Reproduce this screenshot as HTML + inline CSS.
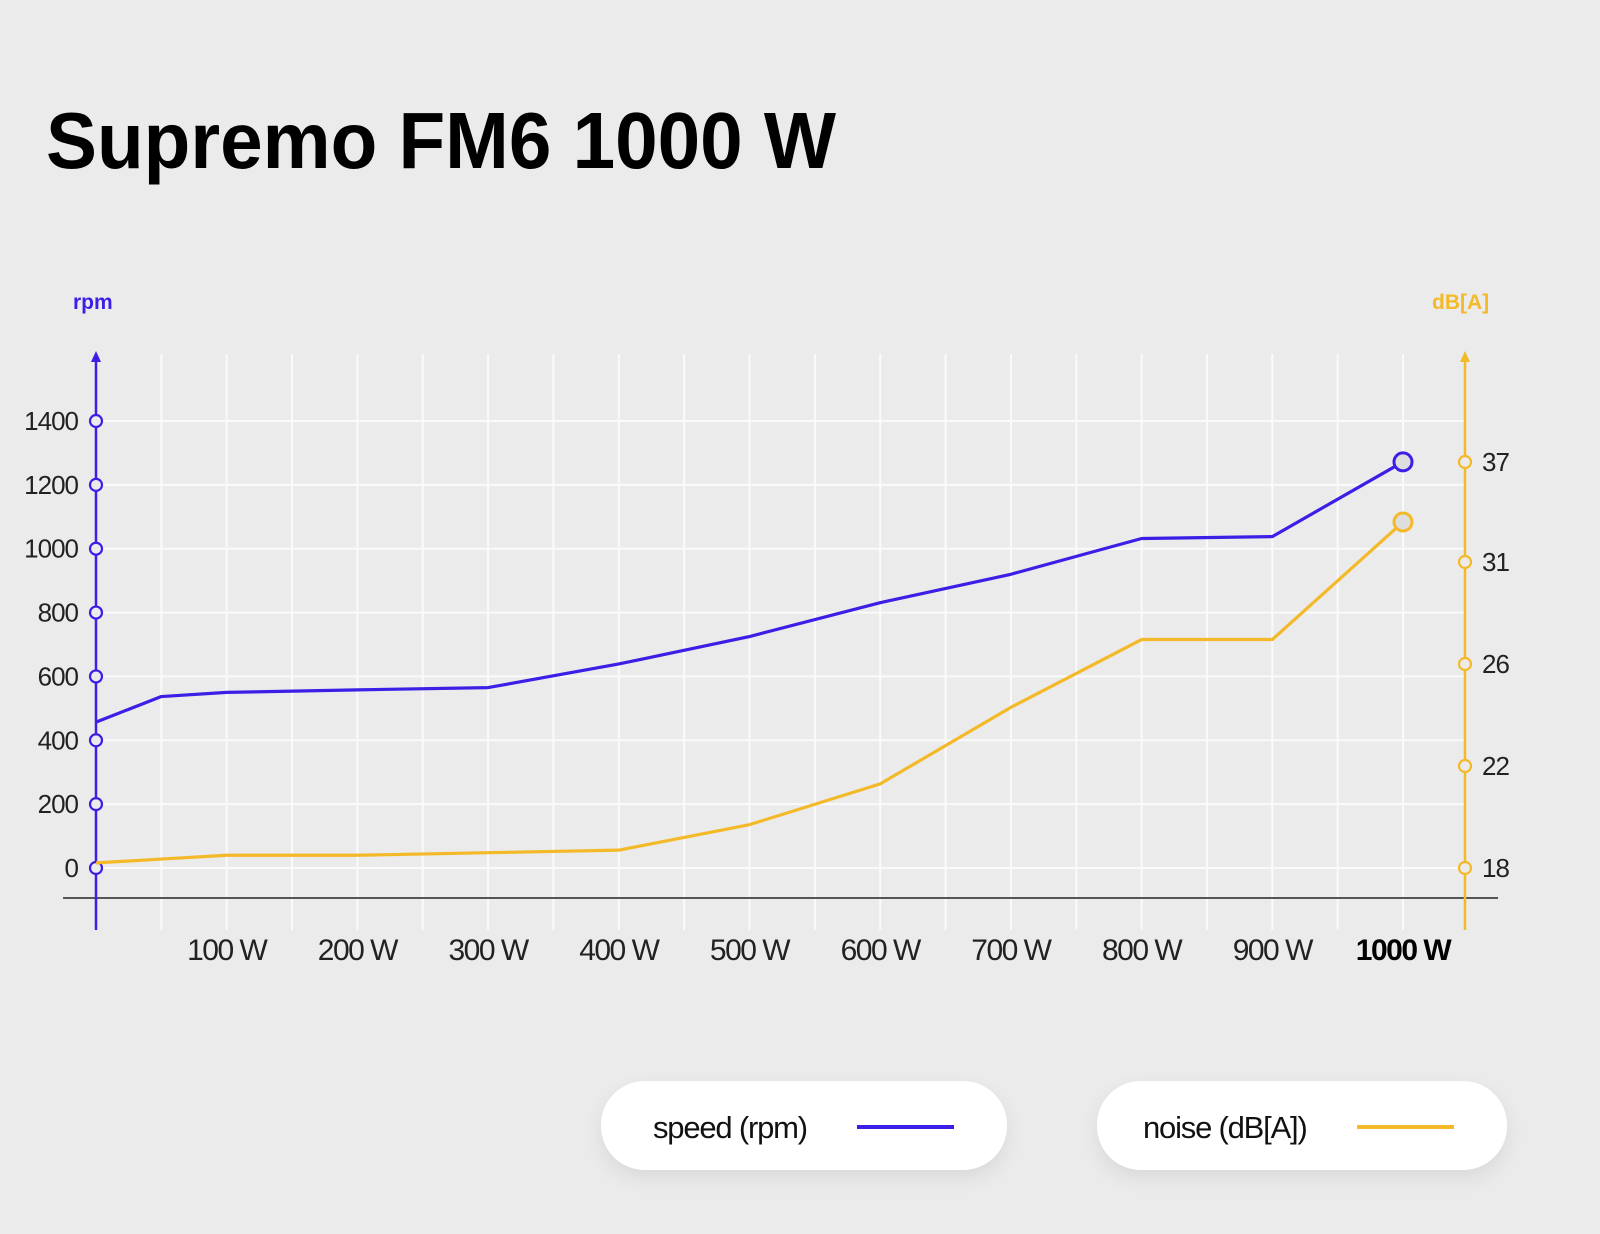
<!DOCTYPE html>
<html><head><meta charset="utf-8"><style>
html,body{margin:0;padding:0;background:#ebebeb;}
svg{display:block;font-family:"Liberation Sans",sans-serif;}
</style></head><body>
<svg id="chart" width="1600" height="1234" viewBox="0 0 1600 1234" xmlns="http://www.w3.org/2000/svg">
<defs>
<filter id="sh" x="-10%" y="-30%" width="120%" height="170%"><feDropShadow dx="0" dy="8" stdDeviation="9" flood-color="#000" flood-opacity="0.08"/></filter>
</defs>
<rect width="1600" height="1234" fill="#ebebeb"/>
<text x="46" y="168" font-size="80" font-weight="bold" fill="#000" textLength="790" lengthAdjust="spacingAndGlyphs">Supremo FM6 1000 W</text>
<g id="grid"></g>
<g id="axes"></g>
<g id="series"></g>
<g>
 <g>
  <rect x="601" y="1081" width="406" height="89" rx="44" fill="#fff" filter="url(#sh)"/>
  <text x="653" y="1138" font-size="31" fill="#111" letter-spacing="-1.2">speed (rpm)</text>
  <line x1="857" y1="1127" x2="954" y2="1127" stroke="#3b1fe6" stroke-width="4"/>
 </g>
 <g>
  <rect x="1097" y="1081" width="410" height="89" rx="44" fill="#fff" filter="url(#sh)"/>
  <text x="1143" y="1138" font-size="31" fill="#111" letter-spacing="-1.2">noise (dB[A])</text>
  <line x1="1357" y1="1127" x2="1454" y2="1127" stroke="#f4b928" stroke-width="4"/>
 </g>
</g>
</svg>
<script>
const watts = [0, 50, 100, 200, 300, 400, 500, 600, 700, 800, 900, 1000];
const speedRpm = [457, 537, 550, 558, 565, 639, 725, 831, 920, 1032, 1038, 1272];
const noiseDb = [18.2, 18.35, 18.5, 18.5, 18.6, 18.7, 19.7, 21.3, 24.3, 27.2, 27.2, 33.4];
const xTickLabels = ["100 W","200 W","300 W","400 W","500 W","600 W","700 W","800 W","900 W","1000 W"];
const xTickValues = [100,200,300,400,500,600,700,800,900,1000];
const rpmTicks = [0,200,400,600,800,1000,1200,1400];
const dbTicks = [18,22,26,31,37];

const NS="http://www.w3.org/2000/svg";
const BLUE="#3b1fe6", YEL="#f4b928";
const X0=96, XSTEP=1.307; // px per W
function xS(w){return X0+w*XSTEP;}
function yRpm(v){return 868 - v*(868-421)/1400;}
const dbPix=[868,766,664,562,462];
function yDb(v){
  for(let i=0;i<dbTicks.length-1;i++){
    if(v<=dbTicks[i+1]||i===dbTicks.length-2){
      const t=(v-dbTicks[i])/(dbTicks[i+1]-dbTicks[i]);
      return dbPix[i]+t*(dbPix[i+1]-dbPix[i]);
    }
  }
}
function mk(tag,attrs,parent,txt){const e=document.createElementNS(NS,tag);for(const k in attrs)e.setAttribute(k,attrs[k]);if(txt!==undefined)e.textContent=txt;parent.appendChild(e);return e;}
const grid=document.getElementById('grid'),axes=document.getElementById('axes'),series=document.getElementById('series');
// vertical grid every 50W
for(let w=50;w<=1000;w+=50){
  const l=mk('line',{x1:xS(w),x2:xS(w),y1:354,y2:930,stroke:'#fafafa','stroke-width':2},grid);
  
  
}
rpmTicks.forEach(v=>{
  const l=mk('line',{x1:X0,x2:1465,y1:yRpm(v),y2:yRpm(v),stroke:'#fafafa','stroke-width':2},grid);
  
  
});
// baseline
const bl=mk('line',{x1:63,x2:1498,y1:898,y2:898,stroke:'#555','stroke-width':2},axes);


// left axis
const la=mk('line',{x1:X0,x2:X0,y1:358,y2:930,stroke:BLUE,'stroke-width':2.5},axes);


mk('polygon',{points:`${X0-5},362 ${X0+5},362 ${X0},351`,fill:BLUE},axes);
const ra=mk('line',{x1:1465,x2:1465,y1:358,y2:930,stroke:YEL,'stroke-width':2.5},axes);


mk('polygon',{points:`1460,362 1470,362 1465,351`,fill:YEL},axes);
const t1=mk('text',{x:73,y:309,'font-size':21,'font-weight':'bold',fill:BLUE},axes,'rpm');


const t2=mk('text',{x:1432,y:309,'font-size':21,'font-weight':'bold',fill:YEL},axes,'dB[A]');


rpmTicks.forEach(v=>{
  mk('circle',{cx:X0,cy:yRpm(v),r:6,fill:'#ebebeb',stroke:BLUE,'stroke-width':2.2},axes);
  const t=mk('text',{x:78,y:yRpm(v)+9,'font-size':26,fill:'#222','text-anchor':'end','letter-spacing':-1},axes,String(v));
  
  
});
dbTicks.forEach(v=>{
  mk('circle',{cx:1465,cy:yDb(v),r:6,fill:'#ebebeb',stroke:YEL,'stroke-width':2.2},axes);
  const t=mk('text',{x:1482,y:yDb(v)+9,'font-size':26,fill:'#222','letter-spacing':-1},axes,String(v));
  
  
});
xTickValues.forEach((w,i)=>{
  const last=i===xTickValues.length-1;
  const t=mk('text',{x:xS(w),y:960,'font-size':30,fill:last?'#000':'#222','font-weight':last?'bold':'normal','text-anchor':'middle','letter-spacing':-1.5},axes,xTickLabels[i]);
  
  
});
function drawLine(vals,yf,color,name){
  const pts=watts.map((w,i)=>xS(w)+','+yf(vals[i])).join(' ');
  const p=mk('polyline',{points:pts,fill:'none',stroke:color,'stroke-width':3.2,'stroke-linejoin':'round'},series);
  
  
  const n=watts.length-1;
  const c=mk('circle',{cx:xS(watts[n]),cy:yf(vals[n]),r:9,fill:'#dedede',stroke:color,'stroke-width':3},series);
  
  
}
drawLine(noiseDb,yDb,YEL,'noise');
drawLine(speedRpm,yRpm,BLUE,'speed');
</script>
</body></html>
